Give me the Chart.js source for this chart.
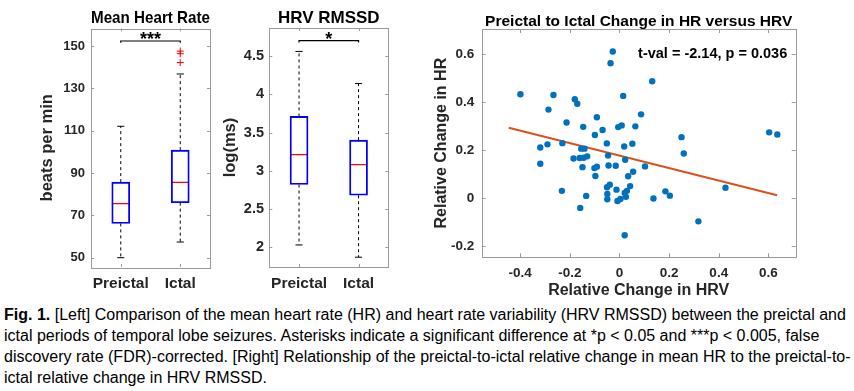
<!DOCTYPE html>
<html>
<head>
<meta charset="utf-8">
<script src="https://cdn.jsdelivr.net/npm/chart.js@4.4.1/dist/chart.umd.min.js"></script>
<style>
  body { margin: 0; background: #fff; width: 854px; height: 391px; overflow: hidden; position: relative; }
  canvas { position: absolute; top: 0; }
  #hrChart { left: 0; }
  #rmssdChart { left: 215px; }
  #scatterChart { left: 420px; }
  #caption {
    position: absolute; left: 4px; top: 304px;
    font-family: 'Liberation Sans Narrow', 'Arial Narrow', sans-serif;
    font-size: 16px; line-height: 21px; white-space: nowrap; color: #000;
  }
</style>
</head>
<body>
<canvas id="hrChart" width="215" height="300"></canvas>
<canvas id="rmssdChart" width="180" height="300"></canvas>
<canvas id="scatterChart" width="434" height="300"></canvas>
<div id="caption">
  <b>Fig. 1.</b> [Left] Comparison of the mean heart rate (HR) and heart rate variability (HRV RMSSD) between the preictal and<br>
  ictal periods of temporal lobe seizures. Asterisks indicate a significant difference at *p &lt; 0.05 and ***p &lt; 0.005, false<br>
  discovery rate (FDR)-corrected. [Right] Relationship of the preictal-to-ictal relative change in mean HR to the preictal-to-<br>
  ictal relative change in HRV RMSSD.
</div>
<script>
// groups
const categories = ['Preictal', 'Ictal'];

// mean heart rate, beats per min
const hrLow = [50.0, 57.4];
const hrQ1 = [66.2, 76.0];
const hrMedian = [75.5, 85.6];
const hrQ3 = [85.7, 100.8];
const hrHigh = [112.1, 136.8];
const hrOutliers = [[], [142.2, 146.4, 147.6]];
const hrTicks = [50, 70, 90, 110, 130, 150];

// HRV RMSSD, log(ms)
const rmssdLow = [2.03, 1.87];
const rmssdQ1 = [2.82, 2.68];
const rmssdMedian = [3.21, 3.08];
const rmssdQ3 = [3.71, 3.40];
const rmssdHigh = [4.56, 4.14];
const rmssdOutliers = [[], []];
const rmssdTicks = [2, 2.5, 3, 3.5, 4, 4.5];

// significance brackets: [HR, RMSSD]
const sigLevels = [152.4, 4.70];
const sigLabels = ['***', '*'];

// relative change preictal -> ictal
const hrvChange = [
  -0.399, -0.319, -0.319, -0.286, -0.290, -0.266, -0.213, -0.230, -0.232, -0.180,
  -0.170, -0.185, -0.146, -0.154, -0.141, -0.160, -0.144, -0.130, -0.149, -0.134,
  -0.158, -0.091, -0.099, -0.068, -0.051, -0.101, -0.091, -0.097, -0.046, -0.044,
  -0.015, -0.050, -0.039, -0.049, -0.049, -0.027, -0.036, 0.015, -0.005, 0.009,
  0.019, 0.023, 0.052, 0.064, 0.087, 0.055, 0.035, 0.103, -0.012, 0.043,
  0.030, 0.021, 0.026, 0.004, -0.008, 0.021, 0.132, 0.137, 0.250, 0.259,
  0.185, 0.203, 0.318, 0.427, 0.603, 0.636
];
const hrChange = [
  0.432, 0.210, 0.142, 0.368, 0.223, 0.429, 0.314, 0.228, 0.029, 0.411,
  0.392, 0.164, 0.296, 0.205, 0.205, 0.166, 0.167, 0.173, 0.128, 0.008,
  -0.042, 0.336, 0.262, 0.283, 0.227, 0.124, 0.130, 0.091, 0.176, 0.135,
  0.134, 0.044, 0.055, 0.016, -0.006, 0.610, 0.561, 0.425, 0.295, 0.302,
  0.214, 0.159, 0.226, 0.298, 0.348, 0.109, 0.090, 0.131, 0.034, 0.049,
  0.029, 0.020, 0.004, -0.005, -0.013, -0.156, 0.486, -0.003, 0.253, 0.185,
  0.027, 0.009, -0.098, 0.042, 0.273, 0.264
];
const fitX = [-0.446, 0.635];
const fitY = [0.292, 0.011];
const statText = 't-val = -2.14, p = 0.036';
const scatterXTicks = [-0.4, -0.2, 0, 0.2, 0.4, 0.6];
const scatterYTicks = [-0.2, 0, 0.2, 0.4, 0.6];

const FONT = "'Liberation Sans', Arial, sans-serif";
const TEXT = '#262626';
const AXIS = '#9a9a9a';
const BOX_HALF = 0.15;
const CAP_HALF = 0.06;

// box outline and inward tick marks on all four sides
const matlabAxes = {
  id: 'matlabAxes',
  afterDatasetsDraw(chart, args, opts) {
    const { ctx, chartArea: a, scales: { x, y } } = chart;
    const len = opts.tickLength || 3;
    ctx.save();
    ctx.strokeStyle = AXIS;
    ctx.lineWidth = 1;
    ctx.beginPath();
    x.ticks.forEach(t => {
      const px = Math.round(x.getPixelForValue(t.value)) + 0.5;
      ctx.moveTo(px, a.bottom); ctx.lineTo(px, a.bottom - len);
      ctx.moveTo(px, a.top); ctx.lineTo(px, a.top + len);
    });
    y.ticks.forEach(t => {
      const py = Math.round(y.getPixelForValue(t.value)) + 0.5;
      ctx.moveTo(a.left, py); ctx.lineTo(a.left + len, py);
      ctx.moveTo(a.right, py); ctx.lineTo(a.right - len, py);
    });
    ctx.stroke();
    ctx.strokeRect(Math.round(a.left) + 0.5, Math.round(a.top) + 0.5,
      Math.round(a.right - a.left), Math.round(a.bottom - a.top));
    ctx.restore();
  }
};

// free text placed in data coordinates
const dataText = {
  id: 'dataText',
  afterDatasetsDraw(chart, args, opts) {
    const { ctx, scales: { x, y } } = chart;
    (opts.items || []).forEach(it => {
      ctx.save();
      ctx.font = it.font;
      ctx.fillStyle = it.color || TEXT;
      ctx.textAlign = it.align || 'center';
      ctx.textBaseline = 'middle';
      ctx.fillText(it.text, x.getPixelForValue(it.x), y.getPixelForValue(it.y) + (it.dy || 0));
      ctx.restore();
    });
  }
};

function boxDatasets(low, q1, med, q3, high, outliers, sig, drop) {
  const whiskers = [], caps = [], medians = [], outs = [];
  categories.forEach((c, i) => {
    const x = i + 1;
    whiskers.push({ x, y: q3[i] }, { x, y: high[i] }, { x, y: null },
                  { x, y: q1[i] }, { x, y: low[i] }, { x, y: null });
    caps.push({ x: x - CAP_HALF, y: high[i] }, { x: x + CAP_HALF, y: high[i] }, { x, y: null },
              { x: x - CAP_HALF, y: low[i] }, { x: x + CAP_HALF, y: low[i] }, { x, y: null });
    medians.push({ x: x - BOX_HALF, y: med[i] }, { x: x + BOX_HALF, y: med[i] }, { x, y: null });
    outliers[i].forEach(v => outs.push({ x, y: v }));
  });
  const bracket = [{ x: 1, y: sig - drop }, { x: 1, y: sig }, { x: 2, y: sig }, { x: 2, y: sig - drop }];
  return [
    { type: 'bar', data: categories.map((c, i) => ({ x: i + 1, y: [q1[i], q3[i]] })),
      backgroundColor: 'rgba(0,0,0,0)', borderColor: '#0000ff', borderWidth: 1.2,
      borderSkipped: false, barThickness: 18, grouped: false },
    { type: 'line', data: whiskers, borderColor: '#000', borderWidth: 1, borderDash: [3, 3], pointRadius: 0 },
    { type: 'line', data: caps, borderColor: '#000', borderWidth: 1, pointRadius: 0 },
    { type: 'line', data: medians, borderColor: '#ff0000', borderWidth: 1.2, pointRadius: 0 },
    { type: 'scatter', data: outs, pointStyle: 'cross', pointRadius: 3.5, borderColor: '#ff0000',
      borderWidth: 1, backgroundColor: '#ff0000' },
    { type: 'line', data: bracket, borderColor: '#000', borderWidth: 1.2, pointRadius: 0 }
  ];
}

function boxChart(id, cfg) {
  return new Chart(document.getElementById(id), {
    type: 'bar',
    data: { datasets: cfg.datasets },
    options: {
      responsive: false,
      animation: false,
      devicePixelRatio: 1,
      layout: { padding: cfg.padding },
      plugins: {
        legend: { display: false },
        tooltip: { enabled: false },
        title: {
          display: true, text: cfg.title, fullSize: false, color: '#000',
          padding: cfg.titlePad, font: { family: FONT, size: 17, weight: 'bold', lineHeight: 1 }
        },
        matlabAxes: { tickLength: 3 },
        dataText: { items: [{ x: 1.5, y: cfg.sig, dy: -1, text: cfg.sigLabel, color: '#000',
                              font: `bold 18px ${FONT}` }] }
      },
      scales: {
        x: {
          type: 'linear', min: 0.5, max: 2.5, offset: false,
          grid: { display: false, drawTicks: false }, border: { display: false },
          afterBuildTicks: s => { s.ticks = categories.map((c, i) => ({ value: i + 1 })); },
          afterFit: s => { s.height = 33; },
          ticks: { autoSkip: false, maxRotation: 0, padding: 7, color: TEXT,
                   font: { family: FONT, size: 15.5, weight: 'bold' },
                   callback: v => categories[v - 1] }
        },
        y: {
          min: cfg.yMin, max: cfg.yMax,
          grid: { display: false, drawTicks: false }, border: { display: false },
          afterBuildTicks: s => { s.ticks = cfg.yTicks.map(v => ({ value: v })); },
          afterFit: s => { s.width = cfg.yWidth; },
          ticks: { padding: cfg.tickPad, color: TEXT, font: { family: FONT, size: cfg.tickSize, weight: 'bold' },
                   callback: v => String(v) },
          title: { display: true, text: cfg.yTitle, padding: 0, color: TEXT,
                   font: { family: FONT, size: 16.5, weight: 'bold', lineHeight: 1 } }
        }
      }
    },
    plugins: [matlabAxes, dataText]
  });
}

boxChart('hrChart', {
  datasets: boxDatasets(hrLow, hrQ1, hrMedian, hrQ3, hrHigh, hrOutliers, sigLevels[0], 0.8),
  title: 'Mean Heart Rate', titlePad: { top: 10, bottom: 1.5 },
  padding: { left: 39.5, right: 3, top: 0, bottom: 0 },
  yMin: 45.6, yMax: 158.3, yTicks: hrTicks, yWidth: 51.5, tickPad: 6, tickSize: 13,
  yTitle: 'beats per min', sig: sigLevels[0], sigLabel: sigLabels[0]
});

boxChart('rmssdChart', {
  datasets: boxDatasets(rmssdLow, rmssdQ1, rmssdMedian, rmssdQ3, rmssdHigh, rmssdOutliers, sigLevels[1], 0.022),
  title: 'HRV RMSSD', titlePad: { top: 9.5, bottom: 1.5 },
  padding: { left: 7.7, right: 6.7, top: 0, bottom: 0 },
  yMin: 1.742, yMax: 4.866, yTicks: rmssdTicks, yWidth: 46.6, tickPad: 5.3, tickSize: 14.5,
  yTitle: 'log(ms)', sig: sigLevels[1], sigLabel: sigLabels[1]
});

new Chart(document.getElementById('scatterChart'), {
  type: 'scatter',
  data: {
    datasets: [
      { data: hrvChange.map((v, i) => ({ x: v, y: hrChange[i] })),
        backgroundColor: '#0072BD', borderWidth: 0, pointRadius: 3.2 },
      { type: 'line', data: fitX.map((v, i) => ({ x: v, y: fitY[i] })),
        borderColor: '#D95319', borderWidth: 2, pointRadius: 0 }
    ]
  },
  options: {
    responsive: false,
    animation: false,
    devicePixelRatio: 1,
    layout: { padding: { left: 13.7, right: 58.3, top: 0, bottom: 1 } },
    plugins: {
      legend: { display: false },
      tooltip: { enabled: false },
      title: {
        display: true, text: 'Preictal to Ictal Change in HR versus HRV', fullSize: false, color: '#000',
        padding: { top: 13.5, bottom: 0 }, font: { family: FONT, size: 15.5, weight: 'bold', lineHeight: 1 }
      },
      matlabAxes: { tickLength: 4 },
      dataText: { items: [{ x: 0.075, y: 0.6, text: statText, align: 'left', color: '#000',
                            font: `bold 14.5px ${FONT}` }] }
    },
    scales: {
      x: {
        type: 'linear', min: -0.555, max: 0.71,
        grid: { display: false, drawTicks: false }, border: { display: false },
        afterBuildTicks: s => { s.ticks = scatterXTicks.map(v => ({ value: v })); },
        afterFit: s => { s.height = 41.7; },
        ticks: { padding: 8.2, color: TEXT, font: { family: FONT, size: 13.5, weight: 'bold' },
                 callback: v => String(v) },
        title: { display: true, text: 'Relative Change in HRV', padding: 0, color: TEXT,
                 font: { family: FONT, size: 16, weight: 'bold', lineHeight: 1 } }
      },
      y: {
        min: -0.248, max: 0.704,
        grid: { display: false, drawTicks: false }, border: { display: false },
        afterBuildTicks: s => { s.ticks = scatterYTicks.map(v => ({ value: v })); },
        afterFit: s => { s.width = 48; },
        ticks: { padding: 7.4, color: TEXT, font: { family: FONT, size: 13.5, weight: 'bold' },
                 callback: v => String(v) },
        title: { display: true, text: 'Relative Change in HR', padding: 0, color: TEXT,
                 font: { family: FONT, size: 16, weight: 'bold', lineHeight: 1 } }
      }
    }
  },
  plugins: [matlabAxes, dataText]
});
</script>
</body>
</html>
